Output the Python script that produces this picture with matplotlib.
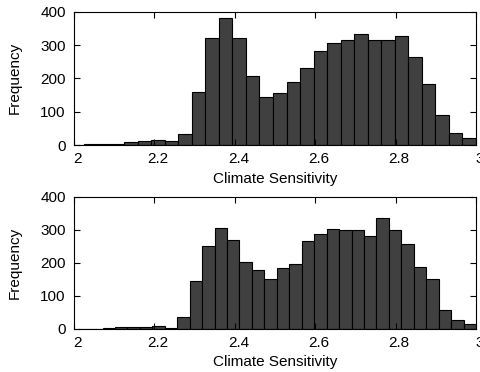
import numpy as np
import matplotlib
matplotlib.use("Agg")
import matplotlib.pyplot as plt
import matplotlib.transforms as mtransforms

plt.rcParams['font.family'] = ['Liberation Sans', 'DejaVu Sans']
plt.rcParams['font.size'] = 11

# Upper histogram: 30 bins
top_lo, top_hi, top_nbins = 1.991, 2.999, 30
top_counts = [0, 3, 3, 4, 8, 11, 15, 13, 32, 160, 320, 381, 320, 208, 144,
              157, 190, 232, 281, 305, 315, 332, 315, 316, 328, 263, 184, 89, 35, 21]

# Lower histogram: 32 bins
bot_lo, bot_hi, bot_nbins = 2.009, 3.0, 32
bot_counts = [1, 1, 2, 5, 5, 7, 9, 4, 35, 145, 250, 304, 268, 203, 177, 151,
              184, 195, 265, 287, 302, 298, 298, 280, 336, 298, 258, 188, 150, 57, 28, 16]

x_ticks = [2, 2.2, 2.4, 2.6, 2.8, 3]
x_tick_labels = ["2", "2.2", "2.4", "2.6", "2.8", "3"]
y_ticks = [0, 100, 200, 300, 400]

fig = plt.figure(figsize=(4.8, 3.72), dpi=100)
ax_top = fig.add_axes([0.1542, 0.6102, 0.8375, 0.3584])
ax_bot = fig.add_axes([0.1542, 0.1156, 0.8375, 0.3557])


def draw_hist(ax, lo, hi, nbins, counts):
    edges = np.linspace(lo, hi, nbins + 1)
    ax.bar(edges[:-1], counts, width=np.diff(edges), align='edge',
           color='#404040', edgecolor='black', linewidth=0.8)
    ax.set_xlim(2, 3)
    ax.set_ylim(0, 400)
    ax.set_xticks(x_ticks)
    ax.set_xticklabels(x_tick_labels)
    ax.set_yticks(y_ticks)
    ax.tick_params(direction='in', top=True, right=True, length=4, width=0.8,
                   labelsize=11)
    ax.tick_params(axis='x', pad=5)
    ax.tick_params(axis='y', pad=6)
    shift = mtransforms.ScaledTranslation(0.035, 0, fig.dpi_scale_trans)
    for lab in ax.get_xticklabels():
        lab.set_transform(lab.get_transform() + shift)
    for s in ax.spines.values():
        s.set_linewidth(0.8)
    ax.set_xlabel("Climate Sensitivity", labelpad=4)
    ax.set_ylabel("Frequency", labelpad=13)


draw_hist(ax_top, top_lo, top_hi, top_nbins, top_counts)
draw_hist(ax_bot, bot_lo, bot_hi, bot_nbins, bot_counts)

fig.savefig("out.png", dpi=100)
